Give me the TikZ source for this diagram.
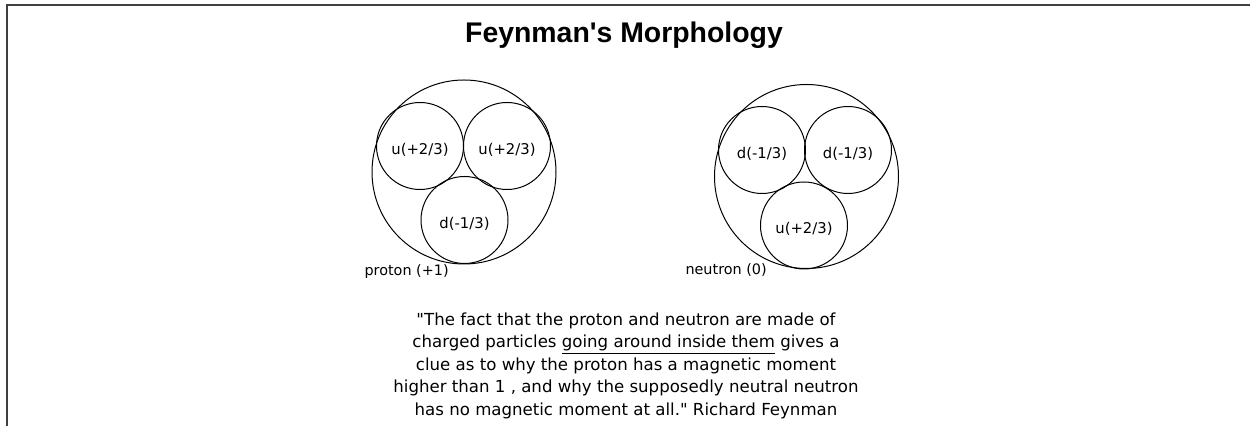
\documentclass[tikz,border=0pt]{standalone}
\usepackage{fontspec}
\setmainfont{DejaVu Sans}[Ligatures=TeXOff]
\newfontfamily\headfont{Liberation Sans}
\usetikzlibrary{positioning}

\begin{document}
\begin{tikzpicture}[x=0.5pt,y=-0.5pt,line width=0.5pt,
    hadron/.style={circle,draw,minimum size=92pt,inner sep=0pt},
    quark/.style={circle,draw,minimum size=43.5pt,inner sep=0pt,text height=9.5pt,text depth=1pt,font=\fontsize{7.4pt}{9pt}\selectfont},
    tag/.style={anchor=west,inner sep=0pt,font=\fontsize{7.2pt}{9pt}\selectfont}]
    \useasboundingbox (0,0) rectangle (1250,426);
    % frame
    \draw[black!75,line width=0.8pt] (7,426) -- (7,5) -- (1250,5);
    \node[font=\headfont\bfseries\fontsize{14.2pt}{17pt}\selectfont] (title) at (624,35) {Feynman's Morphology};
    % proton
    \node[hadron] (proton) at (464,172) {};
    \node[quark] (pu1) at (420,146) {u(+2/3)};
    \node[quark] (pu2) at (507,146) {u(+2/3)};
    \node[quark] (pd) at (464.5,220) {d(-1/3)};
    \node[tag] (ptag) at (364,272) {proton (+1)};
    % neutron
    \node[hadron] (neutron) at (806.5,176.5) {};
    \node[quark] (nd1) at (762,150) {d(-1/3)};
    \node[quark] (nd2) at (848,150) {d(-1/3)};
    \node[quark] (nu) at (804,225.5) {u(+2/3)};
    \node[tag] (ntag) at (685,270) {neutron (0)};
    % quote
    \node[anchor=north,align=center,inner sep=0pt,font=\fontsize{8.3pt}{11.25pt}\selectfont] (quote) at (626,312)
      {"The fact that the proton and neutron are made of\\
       charged particles \underline{going around inside them} gives a\\
       clue as to why the proton has a magnetic moment\\
       higher than 1 , and why the supposedly neutral neutron\\
       has no magnetic moment at all." Richard Feynman};
  \end{tikzpicture}
\end{document}
